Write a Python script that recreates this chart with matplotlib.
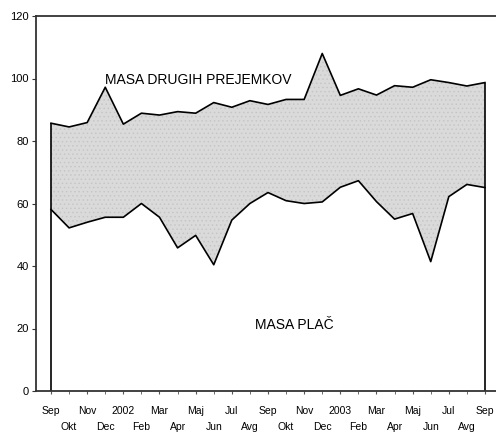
import matplotlib.pyplot as plt
import numpy as np

# months Sep 2001 .. Sep 2003
months = ["Sep", "Okt", "Nov", "Dec", "2002", "Feb", "Mar", "Apr", "Maj", "Jun",
          "Jul", "Avg", "Sep", "Okt", "Nov", "Dec", "2003", "Feb", "Mar", "Apr",
          "Maj", "Jun", "Jul", "Avg", "Sep"]

# total (upper line)
total = [85.7, 84.5, 85.9, 97.2, 85.4, 88.9, 88.3, 89.4, 88.9, 92.3,
         90.8, 92.9, 91.7, 93.3, 93.3, 108.0, 94.6, 96.7, 94.7, 97.7,
         97.2, 99.6, 98.7, 97.6, 98.7]

# masa plac (lower line)
place = [58.1, 52.2, 54.0, 55.6, 55.6, 60.0, 55.6, 45.8, 49.8, 40.4,
         54.7, 60.0, 63.5, 60.9, 60.0, 60.5, 65.2, 67.3, 60.6, 55.0,
         56.8, 41.4, 62.2, 66.1, 65.1]


def main():
    plt.rcParams["font.family"] = ["Liberation Sans", "DejaVu Sans"]
    fig = plt.figure(figsize=(4.96, 4.32), dpi=100)
    ax = fig.add_axes([36 / 496, 41 / 432, 1 - 36 / 496, 375 / 432])

    x = np.arange(len(months))
    plt.rcParams["hatch.color"] = "#c4c4c4"
    plt.rcParams["hatch.linewidth"] = 0.5
    ax.fill_between(x, place, total, facecolor="#dadada", hatch="....",
                    edgecolor="#c4c4c4", linewidth=0)
    ax.plot(x, total, color="black", lw=1.2)
    ax.plot(x, place, color="black", lw=1.2)
    ax.vlines([x[0], x[-1]], 0, [total[0], total[-1]], color="black", lw=1.2)

    ax.set_ylim(0, 120)
    ax.set_xlim(-0.83, 24.61)
    ax.set_yticks(range(0, 121, 20))
    ax.tick_params(axis="y", labelsize=8, length=3, width=0.8,
                   color="#333333", pad=2)

    ax.set_xticks(x[::2])
    ax.set_xticklabels(months[::2])
    ax.set_xticks(x[1::2], minor=True)
    ax.set_xticklabels(months[1::2], minor=True)
    ax.tick_params(axis="x", which="major", labelsize=7.5, length=2, pad=9,
                   color="#555555")
    ax.tick_params(axis="x", which="minor", labelsize=7.5, length=2, pad=20,
                   color="#555555")

    for s in ["left", "top", "bottom"]:
        ax.spines[s].set_color("#333333")
        ax.spines[s].set_linewidth(1.3)
    ax.spines["right"].set_visible(False)

    ax.text(3.0, 99.5, "MASA DRUGIH PREJEMKOV", fontsize=10, va="center")
    ax.text(11.3, 21.1, "MASA PLAČ", fontsize=10, va="center")

    fig.savefig("out.png", dpi=100)


if __name__ == "__main__":
    main()
